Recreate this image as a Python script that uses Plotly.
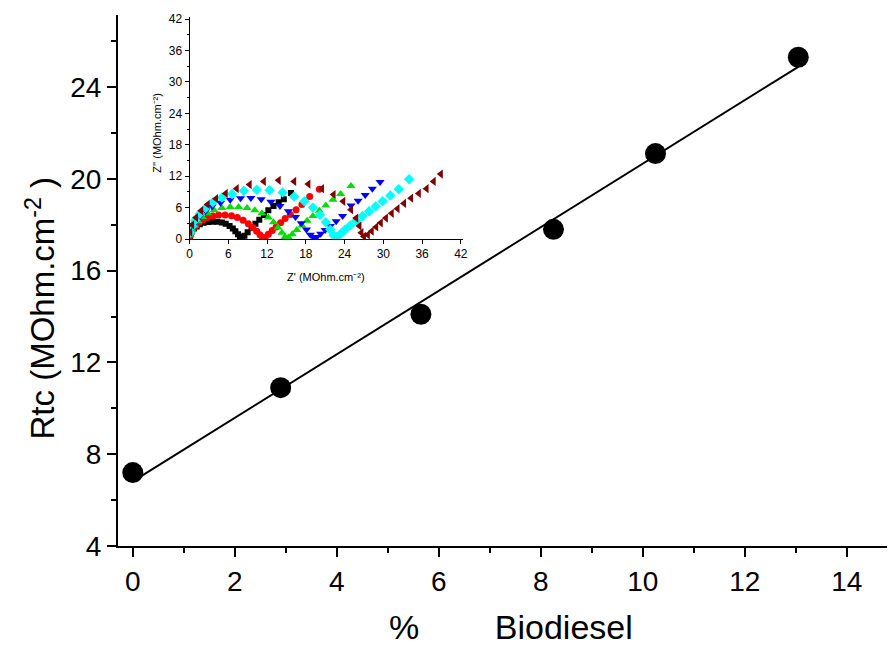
import numpy as np
import plotly.graph_objects as go

# ---- main data ----
biodiesel = [0.0, 2.9, 5.65, 8.25, 10.25, 13.05]
rtc = [7.2, 10.9, 14.1, 17.8, 21.1, 25.3]
x_ticks = [0, 2, 4, 6, 8, 10, 12, 14]
y_ticks = [4, 8, 12, 16, 20, 24]

# ---- inset (Nyquist) data ----
blk_x = [0.1,0.2,0.4,0.7,1.1,1.6,2.2,2.9,3.6,4.3,5.0,5.6,6.2,6.7,7.1,7.5,7.8,8.1,8.5,9.0,9.6,10.2,10.8,11.5,12.2,13.0,13.8,14.6,15.7]
blk_y = [0.5,1.0,1.5,2.0,2.4,2.8,3.1,3.25,3.3,3.3,3.15,2.9,2.5,2.0,1.5,0.9,0.4,0.2,0.6,1.3,2.1,2.9,3.7,4.6,5.5,6.3,7.0,7.6,8.8]
red_x = [0.1,0.3,0.6,1.0,1.5,2.1,2.8,3.6,4.5,5.5,6.5,7.4,8.3,9.1,9.8,10.4,10.9,11.3,11.7,12.2,12.8,13.4,14.1,14.8,15.6,16.5,17.4,18.6,20.1]
red_y = [0.6,1.3,2.0,2.6,3.2,3.7,4.1,4.4,4.6,4.6,4.45,4.1,3.6,2.9,2.2,1.5,0.8,0.3,0.3,0.9,1.6,2.3,3.1,3.9,4.7,5.6,6.6,8.1,9.5]
grn_x = [0.1,0.4,0.8,1.3,2.0,2.8,3.8,5.0,6.3,7.6,8.9,10.1,11.2,12.2,13.0,13.7,14.3,14.8,15.3,15.9,16.6,17.4,18.2,19.1,20.1,21.1,22.2,23.4,25.0]
grn_y = [0.8,1.7,2.6,3.4,4.2,4.9,5.5,5.9,6.1,6.1,5.9,5.5,4.9,4.1,3.2,2.2,1.2,0.4,0.3,0.9,1.7,2.6,3.5,4.4,5.4,6.4,7.5,8.6,10.1]
blu_x = [0.1,0.4,0.9,1.6,2.5,3.5,4.8,6.3,7.9,9.5,11.1,12.6,14.0,15.3,16.4,17.3,18.1,18.7,19.2,19.7,20.3,21.0,21.8,22.7,23.7,25.0,26.1,27.2,28.3,29.5]
blu_y = [1.0,2.1,3.2,4.3,5.3,6.2,6.9,7.5,7.8,7.85,7.6,7.1,6.3,5.3,4.2,3.0,1.8,0.8,0.3,0.4,1.0,1.7,2.5,3.4,4.4,6.4,7.3,8.4,9.6,10.9]
cyn_x = [0.1,0.4,0.9,1.6,2.5,3.6,5.0,6.6,8.4,10.4,12.4,14.4,16.2,17.8,19.1,20.2,21.1,21.8,22.3,22.8,23.4,24.1,24.9,25.8,26.8,27.8,28.8,29.9,31.1,32.4,34.0]
cyn_y = [1.2,2.4,3.6,4.8,5.9,7.0,7.9,8.6,9.2,9.4,9.3,8.9,8.1,7.2,6.0,4.6,3.2,1.8,0.7,0.4,1.0,1.8,2.6,3.5,4.4,5.3,6.2,7.2,8.3,9.5,11.4]
mar_x = [0.1,0.4,1.0,1.8,2.8,4.1,5.6,7.3,9.3,11.5,13.8,16.2,18.4,20.5,22.3,23.8,25.0,25.8,26.3,26.6,27.0,27.6,28.2,28.9,29.6,30.4,31.3,32.2,33.2,34.3,35.5,36.7,37.8,38.9]
mar_y = [1.3,2.7,4.1,5.4,6.6,7.7,8.7,9.6,10.4,11.0,11.2,11.0,10.5,9.6,8.5,7.2,5.6,4.0,2.5,1.2,0.5,0.8,1.5,2.3,3.1,4.0,4.9,5.8,6.8,7.8,8.7,9.6,11.0,12.4]
inset_ticks = [0, 6, 12, 18, 24, 30, 36, 42]

fig = go.Figure()

# fit line
slope, intercept = np.polyfit(biodiesel, rtc, 1)
xf = np.array([biodiesel[0], biodiesel[-1]])
fig.add_trace(go.Scatter(x=xf, y=slope * xf + intercept, mode="lines",
                         line=dict(color="black", width=2), showlegend=False, hoverinfo="skip"))
fig.add_trace(go.Scatter(x=biodiesel, y=rtc, mode="markers",
                         marker=dict(color="black", size=21, symbol="circle"), showlegend=False))

inset_series = [
    (blk_x, blk_y, "black", "square", 6),
    (red_x, red_y, "red", "circle", 7),
    (grn_x, grn_y, "#00dd00", "triangle-up", 8),
    (blu_x, blu_y, "blue", "triangle-down", 8),
    (cyn_x, cyn_y, "cyan", "diamond", 8),
    (mar_x, mar_y, "#800000", "triangle-left", 8),
]
for xs, ys, col, sym, sz in inset_series:
    fig.add_trace(go.Scatter(x=xs, y=ys, mode="markers", xaxis="x2", yaxis="y2",
                             marker=dict(color=col, symbol=sym, size=sz, line=dict(width=0)),
                             showlegend=False))

W, H = 892, 645
ML, MR, MT, MB = 118, 0, 15, 99
PW, PH = W - ML - MR, H - MT - MB

def px(x):
    return (x - ML) / PW

def py(y):
    return (H - MB - y) / PH

FONT = "Liberation Sans, Arial, sans-serif"

fig.update_layout(
    width=W, height=H,
    margin=dict(l=ML, r=MR, t=MT, b=MB),
    paper_bgcolor="white", plot_bgcolor="white",
    xaxis=dict(range=[-0.29, 14.79], tickvals=x_ticks, ticks="outside", ticklen=9, tickwidth=2,
               showline=True, linewidth=2, linecolor="black", showgrid=False, zeroline=False,
               tickfont=dict(family=FONT, size=28, color="black"),
               minor=dict(dtick=1, ticks="outside", ticklen=5, tickwidth=2, tickcolor="black"),
               tickcolor="black"),
    yaxis=dict(range=[4, 27.14], tickvals=y_ticks, ticks="outside", ticklen=9, tickwidth=2,
               showline=True, linewidth=2, linecolor="black", showgrid=False, zeroline=False,
               tickfont=dict(family=FONT, size=28, color="black"),
               minor=dict(dtick=2, ticks="outside", ticklen=5, tickwidth=2, tickcolor="black"),
               tickcolor="black"),
    xaxis2=dict(domain=[px(190), px(465)], anchor="y2", range=[0, 42.3], tickvals=inset_ticks,
                ticks="outside", ticklen=4, tickwidth=1, tickcolor="black",
                showline=True, linewidth=1, linecolor="black", showgrid=False, zeroline=False,
                tickfont=dict(family=FONT, size=12, color="black")),
    yaxis2=dict(domain=[py(239), py(17)], anchor="x2", range=[0, 42.4], tickvals=inset_ticks,
                ticks="outside", ticklen=4, tickwidth=1, tickcolor="black",
                showline=True, linewidth=1, linecolor="black", showgrid=False, zeroline=False,
                minor=dict(dtick=3, ticks="outside", ticklen=2, tickwidth=1, tickcolor="black"),
                tickfont=dict(family=FONT, size=12, color="black")),
    annotations=[
        dict(text="Rtc (MOhm.cm<sup>-2</sup> )", textangle=-90, x=px(40), y=py(308),
             xref="paper", yref="paper", showarrow=False, xanchor="center", yanchor="middle",
             font=dict(family=FONT, size=33, color="black")),
        dict(text="%\u00a0\u00a0\u00a0\u00a0\u00a0\u00a0\u00a0\u00a0Biodiesel", x=px(514), y=0, yshift=-MB - 3,
             xref="paper", yref="paper", showarrow=False, xanchor="center", yanchor="bottom",
             font=dict(family=FONT, size=34, color="black")),
        dict(text="Z' (MOhm.cm\u207b\u00b2)", x=px(327), y=py(277),
             xref="paper", yref="paper", showarrow=False, xanchor="center", yanchor="middle",
             font=dict(family=FONT, size=11, color="black")),
        dict(text="Z'' (MOhm.cm\u207b\u00b2)", textangle=-90, x=px(157), y=py(133),
             xref="paper", yref="paper", showarrow=False, xanchor="center", yanchor="middle",
             font=dict(family=FONT, size=11, color="black")),
    ],
)

fig.write_html("out.html")
